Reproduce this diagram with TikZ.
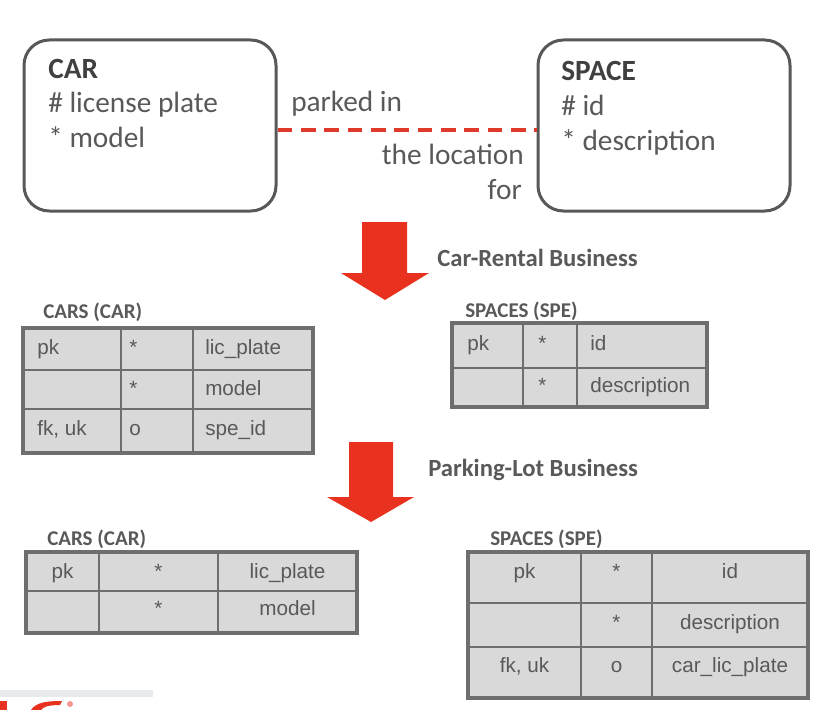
\documentclass[tikz,border=0pt]{standalone}
\usepackage{fontspec}
\newfontfamily\calibri{Carlito}
\newfontfamily\arial{Liberation Sans}
\definecolor{txtgray}{HTML}{595959}
\definecolor{headgray}{HTML}{404040}
\definecolor{boxgray}{HTML}{585858}
\definecolor{relred}{HTML}{E03A2C}
\definecolor{arrowred}{HTML}{E8321F}
\definecolor{cellfill}{HTML}{D9D9D9}
\definecolor{gridgray}{HTML}{6E6E6E}
\definecolor{bargray}{HTML}{E8EAEB}
\tikzset{
  entity/.style={draw=boxgray, line width=2.25pt, rounded corners=19pt,
    minimum width=189pt, minimum height=128.25pt, inner sep=0pt},
  enttext/.style={font=\calibri\fontsize{22}{26}\selectfont, text=txtgray,
    inner sep=0pt, anchor=base west},
  enthead/.style={enttext, font=\calibri\bfseries\fontsize{22}{26}\selectfont, text=headgray},
  reldash/.style={draw=relred, line width=3pt, dash pattern=on 11pt off 6.5pt},
  bizlabel/.style={font=\calibri\bfseries\fontsize{18.5}{22}\selectfont, text=txtgray,
    inner sep=0pt, anchor=base west},
  tablehead/.style={font=\calibri\bfseries\fontsize{15.75}{19}\selectfont, text=txtgray,
    inner sep=0pt, anchor=base west},
  cell/.style={font=\arial\fontsize{15.5}{18}\selectfont, text=txtgray, inner sep=0pt, anchor=base},
  cellleft/.style={cell, anchor=base west},
  gridline/.style={draw=gridgray, line width=1.2pt},
  tableborder/.style={draw=gridgray, line width=2.6pt}
}
\begin{document}
\begin{tikzpicture}[x=0.75pt,y=-0.75pt]
\useasboundingbox (0,0) rectangle (836,710);
\clip (0,0) rectangle (836,710);
\node[entity] (car) at (150,125.5) {};
\node[entity] (space) at (664,125.5) {};
\node[enthead] (carname) at (48,79) {CAR};
\node[enttext] (carlic) at (48,113) {\# license plate};
\node[enttext] (carmodel) at (48,147) {* model};
\node[enthead] (spacename) at (561,81) {SPACE};
\node[enttext] (spaceid) at (561,116) {\# id};
\node[enttext] (spacedesc) at (561,151) {* description};
\draw[reldash] ([yshift=-3.4pt]car.east) -- ([yshift=-3.4pt]space.west);
\node[enttext] (parkedin) at (291,112) {parked in};
\node[enttext, anchor=base east] (location) at (524,164) {the location};
\node[enttext, anchor=base east] (locfor) at (522,199) {for};
\fill[arrowred] (362,222) -- (407,222) -- (407,273) -- (429,273) -- (385,300)
  -- (341,273) -- (362,273) -- cycle;
\node[bizlabel] (rental) at (437,266) {Car-Rental Business};
\fill[arrowred] (349,442) -- (393,442) -- (393,497) -- (414,497) -- (371,522)
  -- (327,497) -- (349,497) -- cycle;
\node[bizlabel] (parking) at (428,476) {Parking-Lot Business};
\node[tablehead] (carshead) at (43,318) {CARS (CAR)};
\fill[cellfill] (23,328) rectangle (313,453);
\draw[gridline] (121,328) -- (121,453) (193,328) -- (193,453)
  (23,370) -- (313,370) (23,409) -- (313,409);
\draw[tableborder] (23,328) rectangle (313,453);
\foreach \y/\k/\o/\n [count=\i] in {354.5/pk/*/lic\_plate, 395.5//*/model, 435.5/{fk, uk}/o/spe\_id}{
  \node[cellleft] (carsk\i) at (37,\y) {\k};
  \node[cellleft] (carso\i) at (129,\y) {\o};
  \node[cellleft] (carsn\i) at (205,\y) {\n};
}
\node[tablehead] (spaceshead) at (465,317) {SPACES (SPE)};
\fill[cellfill] (452,323) rectangle (707,407);
\draw[gridline] (523,323) -- (523,407) (577,323) -- (577,407) (452,368) -- (707,368);
\draw[tableborder] (452,323) rectangle (707,407);
\foreach \y/\k/\o/\n [count=\i] in {350.5/pk/*/id, 392.5//*/description}{
  \node[cellleft] (spek\i) at (467,\y) {\k};
  \node[cellleft] (speo\i) at (538,\y) {\o};
  \node[cellleft] (spen\i) at (590,\y) {\n};
}
\node[tablehead] (carshead2) at (47,545) {CARS (CAR)};
\fill[cellfill] (26,552) rectangle (357,633);
\draw[gridline] (99,552) -- (99,633) (218,552) -- (218,633) (26,591) -- (357,591);
\draw[tableborder] (26,552) rectangle (357,633);
\foreach \y/\k/\o/\n [count=\i] in {578/pk/*/lic\_plate, 615//*/model}{
  \node[cell] (carsbk\i) at (62.5,\y) {\k};
  \node[cell] (carsbo\i) at (158.5,\y) {\o};
  \node[cell] (carsbn\i) at (287.5,\y) {\n};
}
\node[tablehead] (spaceshead2) at (490,545) {SPACES (SPE)};
\fill[cellfill] (468,552) rectangle (808,698);
\draw[gridline] (581,552) -- (581,698) (652,552) -- (652,698)
  (468,603) -- (808,603) (468,647) -- (808,647);
\draw[tableborder] (468,552) rectangle (808,698);
\foreach \y/\k/\o/\n [count=\i] in {578.5/pk/*/id, 629.5//*/description, 672.5/{fk, uk}/o/car\_lic\_plate}{
  \node[cell] (spebk\i) at (524.5,\y) {\k};
  \node[cell] (spebo\i) at (616.5,\y) {\o};
  \node[cell] (spebn\i) at (730,\y) {\n};
}
\fill[bargray] (0,690) rectangle (153,697);
\fill[arrowred] (0,701) rectangle (7,710);
\fill[arrowred] (31,710) .. controls (36,703) and (44,701) .. (62,701) -- (60,705)
  .. controls (48,705) and (43,707) .. (41,710) -- cycle;
\fill[arrowred!50] (70,704) circle (3);
\end{tikzpicture}
\end{document}
